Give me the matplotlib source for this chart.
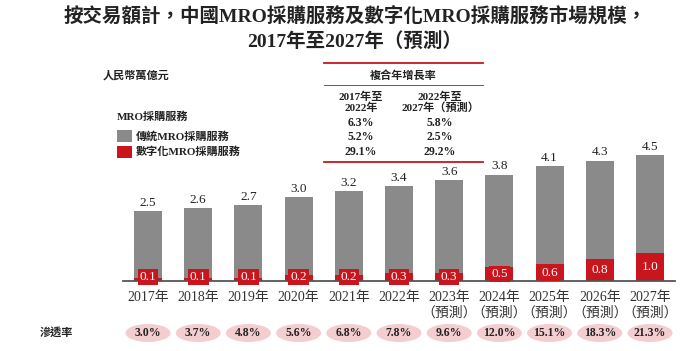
import matplotlib
matplotlib.use('Agg')
import matplotlib.pyplot as plt
from matplotlib.patches import Ellipse, Rectangle

# ---------------- data ----------------
years = ['2017年', '2018年', '2019年', '2020年', '2021年', '2022年',
         '2023年', '2024年', '2025年', '2026年', '2027年']
forecast = [False, False, False, False, False, False, True, True, True, True, True]
total = [2.5, 2.6, 2.7, 3.0, 3.2, 3.4, 3.6, 3.8, 4.1, 4.3, 4.5]
digital = [0.1, 0.1, 0.1, 0.2, 0.2, 0.3, 0.3, 0.5, 0.6, 0.8, 1.0]
penetration = ['3.0%', '3.7%', '4.8%', '5.6%', '6.8%', '7.8%', '9.6%',
               '12.0%', '15.1%', '18.3%', '21.3%']
cagr_periods = ['2017年至\n2022年', '2022年至\n2027年（預測）']
cagr_total = ['6.3%', '5.8%']
cagr_traditional = ['5.2%', '2.5%']
cagr_digital = ['29.1%', '29.2%']
traditional = [t - d for t, d in zip(total, digital)]

title = '按交易額計，中國MRO採購服務及數字化MRO採購服務市場規模，\n2017年至2027年（預測）'
unit = '人民幣萬億元'
legend_title = 'MRO採購服務'
legend_labels = ['傳統MRO採購服務', '數字化MRO採購服務']
cagr_title = '複合年增長率'
pen_label = '滲透率'

GRAY = '#8a8a8a'
RED = '#c9161e'
PINK = '#f3cdd0'
FONT = ['Liberation Serif', 'Noto Sans CJK TC', 'DejaVu Sans']
plt.rcParams['font.family'] = FONT

W, H = 696, 351
fig = plt.figure(figsize=(W / 100, H / 100), dpi=100)

# main bar axes
x0, x1 = 122.9, 675.1
base_y, top_y = 281, 281 - 5.5 * 28
ax = fig.add_axes([x0 / W, (H - base_y) / H, (x1 - x0) / W, (base_y - top_y) / H])
idx = list(range(len(years)))
ax.bar(idx, digital, width=0.56, color=RED, zorder=2)
ax.bar(idx, traditional, bottom=digital, width=0.56, color=GRAY, zorder=2)
ax.set_xlim(-0.5, len(years) - 0.5)
ax.set_ylim(0, 5.5)
for s in ['top', 'left', 'right']:
    ax.spines[s].set_visible(False)
ax.spines['bottom'].set_color('#555555')
ax.spines['bottom'].set_linewidth(1.3)
ax.spines['bottom'].set_zorder(3)
ax.set_xticks([])
ax.set_yticks([])
ax.patch.set_alpha(0)

for i, (t, d) in enumerate(zip(total, digital)):
    ax.text(i, t + 0.08, f'{t:.1f}', ha='center', va='bottom', fontsize=9.5,
            color='#222222', family=FONT)
    ax.text(i, max(d / 2, 0.14), f'{d:.1f}', ha='center', va='center',
            fontsize=9.5, color='white', family=FONT, zorder=4,
            bbox=dict(boxstyle='square,pad=0.15', fc=RED, ec='none'))

# overlay axes in pixel coordinates
ov = fig.add_axes([0, 0, 1, 1])
ov.set_xlim(0, W)
ov.set_ylim(H, 0)
ov.axis('off')
ov.patch.set_alpha(0)

def bar_px(i):
    return ax.transData.transform((i, 0))[0]

for i, y in enumerate(years):
    xp = bar_px(i)
    ov.text(xp, 297, y, ha='center', va='center', fontsize=10, color='#333333')
    if forecast[i]:
        ov.text(xp, 313, '（預測）', ha='center', va='center', fontsize=10,
                color='#333333')
    ov.add_patch(Ellipse((xp, 333), 45, 18, fc=PINK, ec='none'))
    ov.text(xp, 333, penetration[i], ha='center', va='center', fontsize=8.5,
            fontweight='bold', color='#222222')

ov.text(56, 332, pen_label, ha='center', va='center', fontsize=8,
        fontweight='bold', color='#222222')

# title
ov.text(355, 29, title, ha='center', va='center', fontsize=14,
        fontweight='bold', color='#222222', linespacing=1.35)

# unit
ov.text(103, 75, unit, ha='left', va='center', fontsize=8, fontweight='bold',
        color='#222222')

# legend
ov.text(117, 117, legend_title, ha='left', va='center', fontsize=8,
        fontweight='bold', color='#222222')
ov.add_patch(Rectangle((117, 130), 15, 12, fc=GRAY, ec='none'))
ov.text(136, 136, legend_labels[0], ha='left', va='center', fontsize=8,
        fontweight='bold', color='#222222')
ov.add_patch(Rectangle((117, 146), 15, 12, fc=RED, ec='none'))
ov.text(136, 152, legend_labels[1], ha='left', va='center', fontsize=8,
        fontweight='bold', color='#222222')

# CAGR table
ov.plot([324, 483], [62.5, 62.5], color=RED, lw=1.3)
ov.text(403, 75, cagr_title, ha='center', va='center', fontsize=8,
        fontweight='bold', color='#222222')
ov.plot([324, 483], [85, 85], color='#444444', lw=0.6)
col_x = [361, 440]
for cx, per, a, b, c in zip(col_x, cagr_periods, cagr_total, cagr_traditional, cagr_digital):
    ov.text(cx, 102, per, ha='center', va='center', fontsize=8,
            fontweight='bold', color='#222222', linespacing=1.05)
    ov.text(cx, 123, a, ha='center', va='center', fontsize=8.5,
            fontweight='bold', color='#222222')
    ov.text(cx, 137, b, ha='center', va='center', fontsize=8.5,
            fontweight='bold', color='#222222')
    ov.text(cx, 152, c, ha='center', va='center', fontsize=8.5,
            fontweight='bold', color='#222222')
ov.plot([324, 483], [161.5, 161.5], color=RED, lw=1.3)

fig.savefig('out.png', dpi=100)
